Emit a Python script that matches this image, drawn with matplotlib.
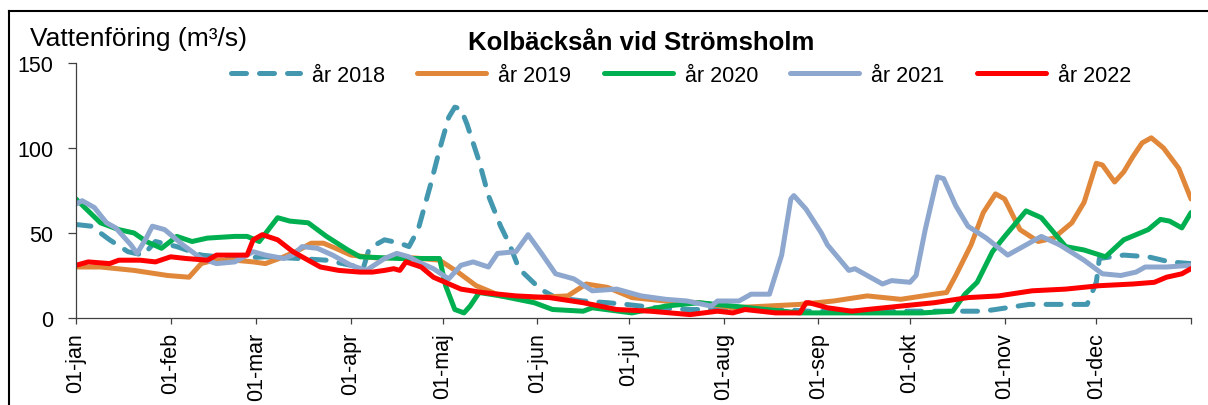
import matplotlib
matplotlib.use("Agg")
import matplotlib.pyplot as plt
from matplotlib.lines import Line2D

plt.rcParams["font.family"] = ["Liberation Sans", "DejaVu Sans"]

# day of year and flow (m3/s)
days_2018 = [0, 5, 11, 17, 22, 26, 33, 41, 52, 62, 73, 82, 90, 94, 96, 101, 106, 109, 112, 116,
             119, 122, 124, 126, 128, 132, 135, 139, 142, 145, 152, 157, 166, 174, 180, 190, 200,
             210, 220, 230, 240, 250, 260, 270, 278, 287, 297, 301, 312, 323, 331, 334, 335, 343,
             351, 358, 365]
flow_2018 = [55, 54, 46, 39, 37, 45, 42, 37, 35, 36, 35, 34, 31, 29, 41, 46, 44, 42, 52, 78,
             99, 118, 124, 123, 114, 92, 72, 54, 43, 29, 17, 12, 10, 9, 8, 6, 5,
             5, 5, 5, 4, 4, 4, 4, 4, 4, 4, 5, 8, 8, 8, 21, 35, 37,
             36, 33, 32]

days_2019 = [0, 8, 19, 30, 37, 41, 45, 52, 58, 62, 68, 73, 77, 81, 85, 90, 100, 106, 113, 119,
             125, 131, 139, 150, 161, 167, 174, 182, 193, 204, 215, 226, 237, 248, 259, 270, 281,
             285, 288, 293, 297, 301, 304, 309, 315, 320, 326, 330, 334, 336, 340, 343, 346, 349,
             352, 356, 361, 365]
flow_2019 = [30, 30, 28, 25, 24, 32, 34, 34, 33, 32, 36, 40, 44, 44, 41, 37, 35, 36, 35, 34,
             27, 19, 13, 12, 13, 20, 18, 12, 10, 9, 6, 7, 8, 10, 13, 11, 14,
             15, 25, 43, 62, 73, 70, 52, 45, 47, 56, 68, 91, 90, 80, 86, 95, 103,
             106, 100, 88, 70]

days_2020 = [0, 8, 14, 19, 23, 28, 33, 38, 43, 52, 56, 60, 66, 70, 76, 82, 89, 93, 106, 119,
             121, 124, 127, 129, 132, 139, 150, 156, 166, 169, 182, 193, 204, 215, 226, 237, 248,
             277, 287, 291, 295, 300, 304, 311, 316, 324, 330, 337, 343, 351, 355, 358, 362, 365]
flow_2020 = [70, 56, 52, 50, 45, 41, 48, 45, 47, 48, 48, 45, 59, 57, 56, 48, 40, 36, 35, 35,
             19, 5, 3, 7, 15, 13, 9, 5, 4, 6, 3, 7, 9, 7, 5, 3, 3,
             3, 4, 14, 21, 39, 48, 63, 59, 42, 40, 36, 46, 52, 58, 57, 53, 62]

days_2021 = [0, 2, 6, 10, 13, 18, 20, 23, 25, 29, 35, 41, 46, 52, 58, 62, 68, 71, 74, 79, 84,
             90, 95, 101, 105, 109, 112, 117, 122, 126, 130, 135, 138, 144, 148, 152, 157, 163,
             169, 177, 185, 193, 200, 208, 210, 217, 221, 227, 231, 234, 235, 239, 244, 246, 253,
             255, 264, 267, 273, 275, 278, 282, 284, 288, 292, 298, 305, 309, 316, 322, 330, 336,
             342, 347, 350, 357, 365]
flow_2021 = [67, 69, 65, 56, 53, 43, 38, 47, 54, 52, 43, 35, 32, 33, 39, 37, 35, 37, 42, 41, 37,
             31, 28, 35, 38, 36, 33, 29, 23, 31, 33, 30, 38, 39, 49, 39, 26, 23,
             16, 17, 13, 11, 10, 7, 10, 10, 14, 14, 37, 70, 72, 64, 50, 43, 28,
             29, 20, 22, 21, 25, 52, 83, 82, 66, 54, 47, 37, 41, 48, 43, 34, 26,
             25, 27, 30, 30, 31]

days_2022 = [0, 4, 11, 14, 21, 26, 31, 36, 43, 46, 52, 56, 58, 61, 66, 71, 76, 80, 86, 93, 97,
             101, 104, 106, 108, 113, 117, 126, 133, 144, 155, 166, 177, 188, 201, 210, 215, 219,
             229, 237, 239, 240, 246, 254, 259, 270, 281, 292, 302, 313, 324, 335, 346, 353, 357,
             362, 365]
flow_2022 = [31, 33, 32, 34, 34, 33, 36, 35, 34, 37, 37, 37, 46, 49, 46, 39, 34, 30, 28, 27, 27,
             28, 29, 28, 33, 30, 24, 17, 15, 13, 12, 9, 5, 4, 2, 4, 3, 5,
             3, 3, 9, 9, 6, 4, 5, 7, 9, 12, 13, 16, 17, 19, 20, 21, 24,
             26, 29]

month_starts = [0, 31, 59, 90, 120, 151, 181, 212, 243, 273, 304, 334, 365]
month_labels = ["01-jan", "01-feb", "01-mar", "01-apr", "01-maj", "01-jun", "01-jul",
                "01-aug", "01-sep", "01-okt", "01-nov", "01-dec", ""]

fig = plt.figure(figsize=(12.08, 4.06), dpi=100)
ax = fig.add_axes([76 / 1208, 87 / 406, 1115 / 1208, 255 / 406])

lw = 3.6
ax.plot(days_2018, flow_2018, color="#4398B0", lw=lw, linestyle=(0, (3.0, 2.6)),
        dash_capstyle="round", label="år 2018")
ax.plot(days_2019, flow_2019, color="#E0873A", lw=lw, solid_capstyle="round", label="år 2019")
ax.plot(days_2020, flow_2020, color="#00B050", lw=lw, solid_capstyle="round", label="år 2020")
ax.plot(days_2021, flow_2021, color="#8EA7CE", lw=lw, solid_capstyle="round", label="år 2021")
ax.plot(days_2022, flow_2022, color="#FF0000", lw=lw, solid_capstyle="round", label="år 2022")

ax.set_xlim(0, 365)
ax.set_ylim(0, 150)
ax.set_yticks([0, 50, 100, 150])
ax.set_xticks(month_starts)
ax.set_xticklabels(month_labels, rotation=90)
ax.spines["top"].set_visible(False)
ax.spines["right"].set_visible(False)
for s in ("left", "bottom"):
    ax.spines[s].set_linewidth(0.9)
    ax.spines[s].set_color("#404040")
ax.tick_params(axis="y", direction="out", length=5.5, width=0.9, color="#404040",
               labelsize=15.5, pad=11)
ax.tick_params(axis="x", direction="out", length=4, width=0.9, color="#404040",
               labelsize=15.5, pad=6)

fig.text(641 / 1208, 1 - 43 / 406, "Kolbäcksån vid Strömsholm", ha="center", va="center",
         fontsize=18.5, fontweight="bold")
fig.text(30 / 1208, 1 - 39 / 406, "Vattenföring (m³/s)", ha="left", va="center", fontsize=19)

ax.legend(loc="center", bbox_to_anchor=(681 / 1208, 1 - 76 / 406),
          bbox_transform=fig.transFigure, ncol=5, frameon=False, fontsize=15.5,
          handlelength=3.2, handletextpad=0.56, columnspacing=1.5)

# frame round the chart area, as in the source image
fig.add_artist(Line2D([8.5 / 1208, 8.5 / 1208], [0, 1 - 11.5 / 406], color="black",
                      lw=1.5, transform=fig.transFigure))
fig.add_artist(Line2D([8.5 / 1208, 1], [1 - 11.5 / 406, 1 - 11.5 / 406], color="black",
                      lw=1.5, transform=fig.transFigure))

fig.savefig("out.png", dpi=100)
plt.close(fig)
